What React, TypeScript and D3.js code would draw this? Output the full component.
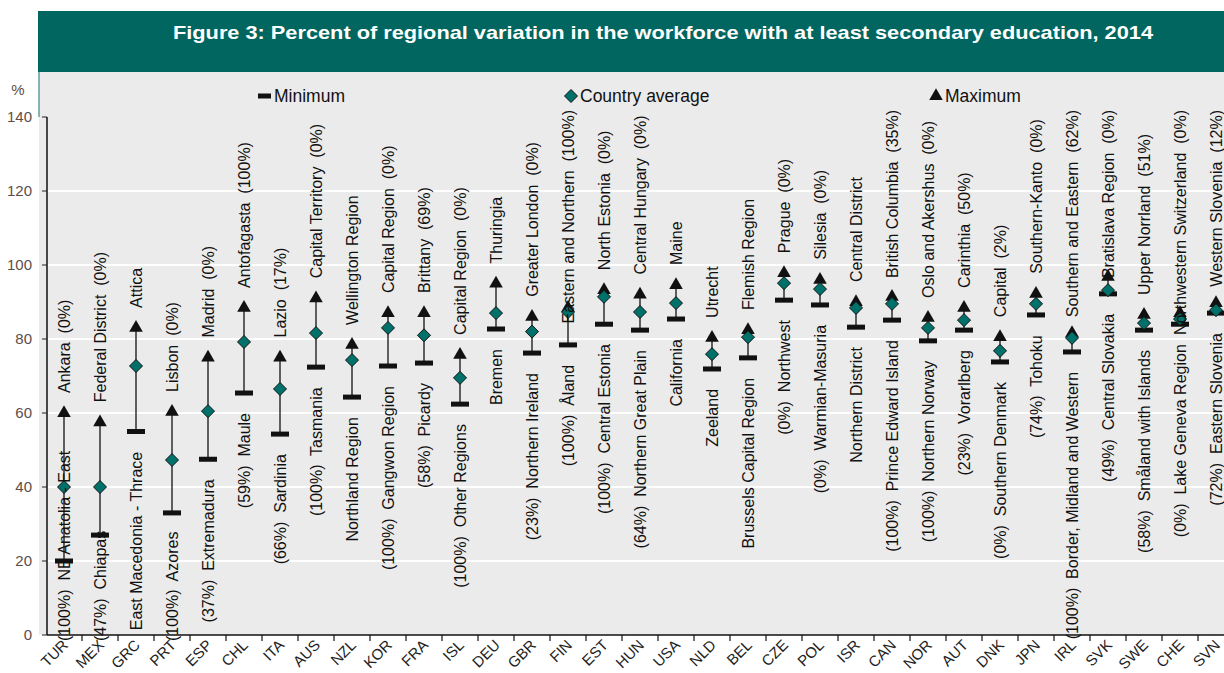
import React from 'react';
import * as d3 from 'd3';

const countries = ['TUR','MEX','GRC','PRT','ESP','CHL','ITA','AUS','NZL','KOR','FRA','ISL','DEU','GBR','FIN','EST','HUN','USA','NLD','BEL','CZE','POL','ISR','CAN','NOR','AUT','DNK','JPN','IRL','SVK','SWE','CHE','SVN'];
const minValues = [20,27,55,33,47.5,65.4,54.3,72.4,64.3,72.7,73.5,62.4,82.7,76.2,78.4,84,82.4,85.4,71.9,74.9,90.5,89.2,83.2,85.1,79.5,82.4,73.8,86.5,76.5,92.2,82.4,84,87];
const avgValues = [40,40,72.7,47.3,60.5,79.2,66.5,81.6,74.3,83,81,69.5,87,82,87.3,91.4,87.3,89.7,75.9,80.5,95.1,93.5,88.4,89.5,83,85.1,76.8,89.5,80.3,93.2,84.3,85.4,87.8];
const maxValues = [60,57.5,83,60.3,75,88.4,75,91,78.4,87,87,75.7,95,86,88.4,93.2,92,94.6,80.3,82.4,97.8,96,90,91.4,85.7,88.4,80.5,92.2,81.6,96.8,86.5,87,89.7];
const maxLabels = ['Ankara  (0%)','Federal District  (0%)','Attica','Lisbon  (0%)','Madrid  (0%)','Antofagasta  (100%)','Lazio  (17%)','Capital Territory  (0%)','Wellington Region','Capital Region  (0%)','Brittany  (69%)','Capital Region  (0%)','Thuringia','Greater London  (0%)','Eastern and Northern  (100%)','North Estonia  (0%)','Central Hungary  (0%)','Maine','Utrecht','Flemish Region','Prague  (0%)','Silesia  (0%)','Central District','British Columbia  (35%)','Oslo and Akershus  (0%)','Carinthia  (50%)','Capital  (2%)','Southern-Kanto  (0%)','Southern and Eastern  (62%)','Bratislava Region  (0%)','Upper Norrland  (51%)','Northwestern Switzerland  (0%)','Western Slovenia  (12%)'];
const minLabels = ['(100%)  NE Anatolia - East','(47%)  Chiapas','East Macedonia - Thrace','(100%)  Azores','(37%)  Extremadura','(59%)  Maule','(66%)  Sardinia','(100%)  Tasmania','Northland Region','(100%)  Gangwon Region','(58%)  Picardy','(100%)  Other Regions','Bremen','(23%)  Northern Ireland','(100%)  Åland','(100%)  Central Estonia','(64%)  Northern Great Plain','California','Zeeland','Brussels Capital Region','(0%)  Northwest','(0%)  Warmian-Masuria','Northern District','(100%)  Prince Edward Island','(100%)  Northern Norway','(23%)  Vorarlberg','(0%)  Southern Denmark','(74%)  Tohoku','(100%)  Border, Midland and Western','(49%)  Central Slovakia','(58%)  Småland with Islands','(0%)  Lake Geneva Region','(72%)  Eastern Slovenia'];
const yTicks = [0,20,40,60,80,100,120,140];

const FONT = 'Arial, "Liberation Sans", sans-serif';
const TEAL = '#00665f';
const LABEL_SIZE = 16;

let ctx: CanvasRenderingContext2D | null = null;
const measure = (s: string) => {
  if (!ctx) ctx = document.createElement('canvas').getContext('2d');
  if (!ctx) return s.length * 7;
  ctx.font = `${LABEL_SIZE}px Arial, "Liberation Sans", sans-serif`;
  return ctx.measureText(s).width;
};

export default function App() {
  const width = 1224, height = 673;
  const x = d3.scaleBand().domain(countries).range([46, 1234]).padding(0);
  const y = d3.scaleLinear().domain([0, 140]).range([635, 117]);
  const topLimit = 110, bottomLimit = 641;
  const tri = d3.symbol().type(d3.symbolTriangle).size(80)();
  const dia = (s: number) => `M0,${-s}L${s},0L0,${s}L${-s},0Z`;

  return (
    <svg width={width} height={height} style={{ position: 'absolute', left: 0, top: 0, fontFamily: FONT }}>
      <rect x={0} y={0} width={width} height={height} fill="#fff" />
      <rect x={38} y={11} width={width - 38} height={61} fill={TEAL} />
      <text x={173} y={39} textLength={980} lengthAdjust="spacingAndGlyphs" fill="#fff" fontWeight="bold" fontSize={18.5}>
        Figure 3: Percent of regional variation in the workforce with at least secondary education, 2014
      </text>
      <rect x={39} y={72} width={width - 39} height={563} fill="#ebebeb" />
      <line x1={39} x2={39} y1={72} y2={117} stroke="#5e9f9a" strokeWidth={1.5} />

      {yTicks.filter(t => t > 0 && t < 140).map(t => (
        <line key={t} x1={47} x2={width} y1={y(t)} y2={y(t)} stroke="#fff" strokeWidth={2} />
      ))}
      {yTicks.map(t => (
        <g key={t}>
          <line x1={42} x2={47} y1={y(t)} y2={y(t)} stroke="#222" />
          <text x={32} y={y(t)} dy="0.35em" textAnchor="end" fontSize={15} fill="#5b4e48">{t}</text>
        </g>
      ))}
      <text x={18} y={90} dy="0.35em" textAnchor="middle" fontSize={15} fill="#5b4e48">%</text>

      {/* legend */}
      <rect x={258} y={93.5} width={13} height={5} fill="#111" />
      <text x={274} y={96} dy="0.35em" fontSize={17.5} fill="#111">Minimum</text>
      <path d={dia(6.5)} transform="translate(571,96)" fill="#00706a" stroke="#111" strokeWidth={1} />
      <text x={580} y={96} dy="0.35em" fontSize={17.5} fill="#111">Country average</text>
      <path d={tri} transform="translate(936,96)" fill="#111" />
      <text x={945} y={96} dy="0.35em" fontSize={17.5} fill="#111">Maximum</text>

      {countries.map((c, i) => {
        const cx = (x(c) as number) + x.bandwidth() / 2;
        const yMin = y(minValues[i]), yAvg = y(avgValues[i]), yMax = y(maxValues[i]);
        const upLen = measure(maxLabels[i]);
        let upStart = yMax - 20;
        if (upStart - upLen < topLimit) upStart = topLimit + upLen;
        const lowLen = measure(minLabels[i]);
        let lowStart = yMin + 20 + lowLen;
        if (lowStart > bottomLimit) lowStart = bottomLimit;
        return (
          <g key={c}>
            <line x1={cx} x2={cx} y1={yMin} y2={yMax} stroke="#111" strokeWidth={1.3} />
            <rect x={cx - 9} y={yMin - 2.5} width={18} height={5} fill="#111" />
            <path d={tri} transform={`translate(${cx},${yMax})`} fill="#111" />
            <path d={dia(6.5)} transform={`translate(${cx},${yAvg})`} fill="#00706a" stroke="#111" strokeWidth={1} />
            <text transform={`translate(${cx},${upStart}) rotate(-90)`} dy="0.35em" fontSize={LABEL_SIZE} fill="#111" style={{ whiteSpace: 'pre' }}>{maxLabels[i]}</text>
            <text transform={`translate(${cx},${lowStart}) rotate(-90)`} dy="0.35em" fontSize={LABEL_SIZE} fill="#111" style={{ whiteSpace: 'pre' }}>{minLabels[i]}</text>
          </g>
        );
      })}

      {/* x axis */}
      <line x1={47} x2={width} y1={635} y2={635} stroke="#111" strokeWidth={1.5} />
      <line x1={47} x2={47} y1={117} y2={635} stroke="#111" strokeWidth={1.5} />
      {countries.slice(1).map(c => (
        <line key={c} x1={x(c) as number} x2={x(c) as number} y1={635} y2={641} stroke="#111" strokeWidth={1.2} />
      ))}
      {countries.map(c => {
        const cx = (x(c) as number) + x.bandwidth() / 2;
        return (
          <text key={c} transform={`translate(${cx + 5},${646}) rotate(-45)`} textAnchor="end" fontSize={15} fill="#222">{c}</text>
        );
      })}
    </svg>
  );
}
